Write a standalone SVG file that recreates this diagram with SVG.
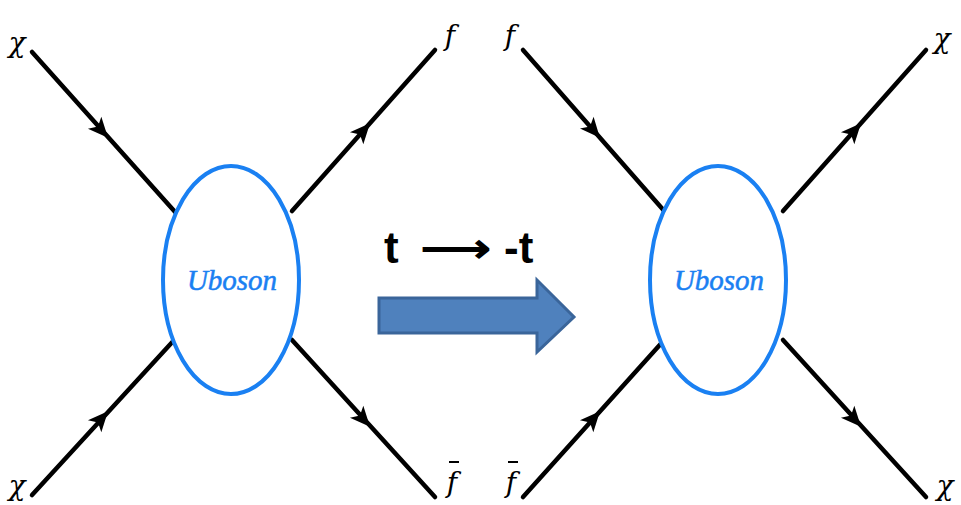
<svg xmlns="http://www.w3.org/2000/svg" width="961" height="505" viewBox="0 0 961 505">
<style>
.ln{stroke:#000;stroke-width:4.5;fill:none;stroke-linecap:round}
.el{fill:#fff;stroke:#1a80f2;stroke-width:4}
.ub{font-family:"Liberation Serif","Times New Roman",serif;font-style:italic;font-size:29px;fill:#1a80f2;text-anchor:middle;stroke:#1a80f2;stroke-width:0.5}
.lb{font-family:"DejaVu Serif","Liberation Serif",serif;font-style:italic;font-size:28px;fill:#000;text-anchor:middle}
.tt{font-family:"Liberation Sans",Arial,sans-serif;font-weight:bold;font-size:44px;fill:#000}
.ar{font-family:"DejaVu Sans",sans-serif;font-size:40px;fill:#000;stroke:#000;stroke-width:1.5}
</style>
<defs>
<path id="ah" d="M9,0 L-11,-9 L-6,0 L-11,9 Z" fill="#000"/>
</defs>
<g id="connectors">
<line class="ln" x1="32" y1="52" x2="176" y2="213"/>
<line class="ln" x1="292" y1="211" x2="435" y2="50"/>
<line class="ln" x1="32" y1="495" x2="176" y2="338"/>
<line class="ln" x1="292" y1="340" x2="435" y2="497"/>
<line class="ln" x1="523" y1="50" x2="666" y2="213"/>
<line class="ln" x1="783" y1="211" x2="926" y2="50"/>
<line class="ln" x1="523" y1="497" x2="666" y2="338"/>
<line class="ln" x1="783" y1="340" x2="926" y2="497"/>
<use href="#ah" transform="translate(102,131) rotate(48)"/>
<use href="#ah" transform="translate(364,130) rotate(-48)"/>
<use href="#ah" transform="translate(102,418) rotate(-48)"/>
<use href="#ah" transform="translate(364,420) rotate(48)"/>
<use href="#ah" transform="translate(594,131) rotate(49)"/>
<use href="#ah" transform="translate(855,130) rotate(-48)"/>
<use href="#ah" transform="translate(594,418) rotate(-48)"/>
<use href="#ah" transform="translate(855,420) rotate(48)"/>
</g>
<g id="node-left">
<ellipse class="el" cx="231" cy="280" rx="68" ry="114"/>
<text class="ub" x="232" y="290">Uboson</text>
</g>
<g id="node-right">
<ellipse class="el" cx="718" cy="280" rx="68" ry="114"/>
<text class="ub" x="719" y="290">Uboson</text>
</g>
<g id="labels">
<text class="lb" x="17" y="52">χ</text>
<text class="lb" x="450" y="45">f</text>
<text class="lb" x="510" y="45">f</text>
<text class="lb" x="942" y="48">χ</text>
<text class="lb" x="17" y="495">χ</text>
<text class="lb" x="452" y="492">f</text>
<line x1="449" y1="462" x2="459" y2="462" stroke="#000" stroke-width="2"/>
<text class="lb" x="511" y="492">f</text>
<line x1="508" y1="462" x2="518" y2="462" stroke="#000" stroke-width="2"/>
<text class="lb" x="945" y="495">χ</text>
</g>
<g id="transform">
<text class="tt" x="384" y="263">t</text>
<text class="ar" x="421" y="262" textLength="70" lengthAdjust="spacingAndGlyphs">⟶</text>
<text class="tt" x="504" y="263">-t</text>
<path d="M379,298 L537,298 L537,280 L574,317 L537,352 L537,333 L379,333 Z" fill="#4f81bd" stroke="#3a659a" stroke-width="3"/>
</g>
</svg>
